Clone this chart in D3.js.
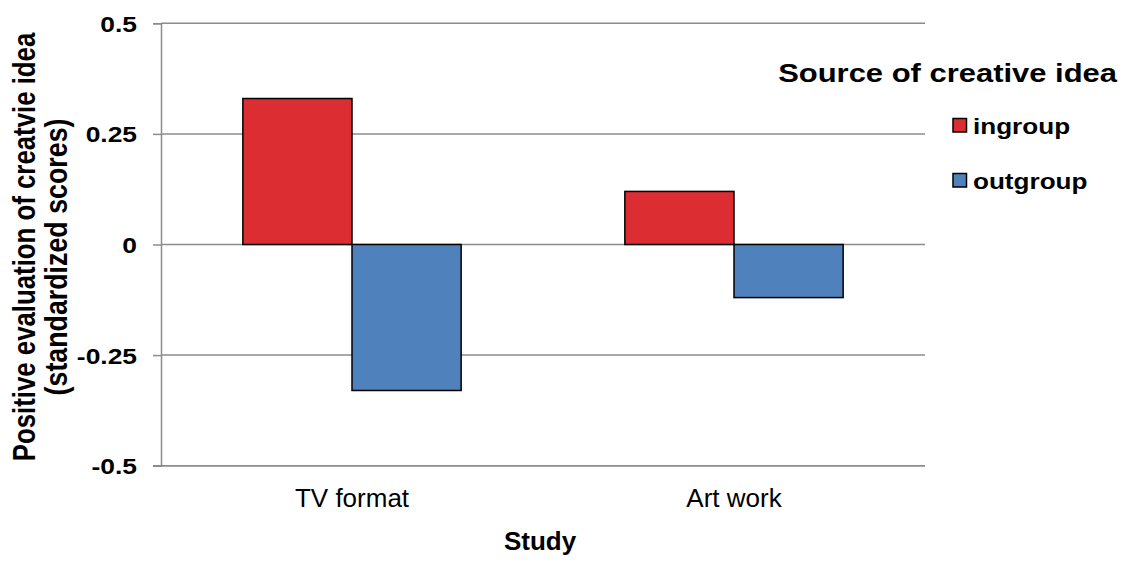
<!DOCTYPE html>
<html>
<head>
<meta charset="utf-8">
<script src="https://cdn.jsdelivr.net/npm/d3@7"></script>
<style>
  html, body { margin: 0; padding: 0; background: #fff; }
  svg { display: block; font-family: "Liberation Sans", Arial, sans-serif; }
</style>
</head>
<body>
<svg id="chart" width="1128" height="565"></svg>
<script>
// Studies along the x axis
const studies = ["TV format", "Art work"];
// Source of the creative idea (legend series)
const sources = ["ingroup", "outgroup"];
// Standardized positive evaluation, one value per study
const ingroupValues = [0.33, 0.12];
const outgroupValues = [-0.33, -0.12];
// Y axis tick values and their labels
const yTicks = [-0.5, -0.25, 0, 0.25, 0.5];
const yTickLabels = ["-0.5", "-0.25", "0", "0.25", "0.5"];
const sourceColors = ["#DC2D32", "#4F81BD"];

const seriesValues = [ingroupValues, outgroupValues];
const FONT = "'Liberation Sans', Arial, sans-serif";

const svg = d3.select("#chart");
const plot = { left: 161, right: 925, top: 23.3, bottom: 465.7 };

// Widen labels horizontally by a factor k, keeping their anchor point fixed
function widen(sel, k) {
  sel.each(function () {
    const ax = +(this.getAttribute("x") || 0);
    d3.select(this).attr("transform", `translate(${ax},0) scale(${k},1) translate(${-ax},0)`);
  });
}

const x0 = d3.scaleBand().domain(studies).range([plot.left, plot.right]).padding(0);
// Excel-style gap width of 150%: the two bars fill 4/7 of each category band
const barW = x0.bandwidth() * (2 / 3.5) / 2;
const x1 = d3.scaleBand().domain(sources).range([0, barW * 2]).padding(0);

const y = d3.scaleLinear().domain([-0.5, 0.5]).range([plot.bottom, plot.top]);

// Horizontal gridlines
svg.append("g")
  .selectAll("line")
  .data(yTicks)
  .join("line")
  .attr("x1", plot.left)
  .attr("x2", plot.right)
  .attr("y1", d => y(d))
  .attr("y2", d => y(d))
  .attr("stroke", "#8c8c8c")
  .attr("stroke-width", 1.5);

// Bars
const groups = svg.append("g")
  .selectAll("g")
  .data(studies)
  .join("g")
  .attr("transform", d => `translate(${x0(d) + x0.bandwidth() / 2 - barW},0)`);

groups.selectAll("rect")
  .data((d, i) => sources.map((s, j) => ({ source: s, value: seriesValues[j][i], color: sourceColors[j] })))
  .join("rect")
  .attr("x", d => x1(d.source))
  .attr("width", x1.bandwidth())
  .attr("y", d => y(Math.max(0, d.value)))
  .attr("height", d => Math.abs(y(d.value) - y(0)))
  .attr("fill", d => d.color)
  .attr("stroke", "#000")
  .attr("stroke-width", 1.5);

// Y axis
const yAxis = d3.axisLeft(y)
  .tickValues(yTicks)
  .tickFormat((d, i) => yTickLabels[i])
  .tickSize(8)
  .tickPadding(16);

const yg = svg.append("g")
  .attr("transform", `translate(${plot.left},0)`)
  .call(yAxis);
yg.select(".domain").attr("stroke", "#8c8c8c").attr("stroke-width", 1.5);
yg.selectAll(".tick line").attr("stroke", "#8c8c8c").attr("stroke-width", 1.5);
const yLabels = yg.selectAll(".tick text")
  .attr("fill", "#000")
  .attr("dy", "0.36em")
  .style("font-size", "22px")
  .style("font-weight", "bold")
  .style("font-family", FONT);
widen(yLabels, 1.2);

// X axis baseline with category labels
const xAxis = d3.axisBottom(x0).tickSize(0).tickPadding(22);
const xg = svg.append("g")
  .attr("transform", `translate(0,${plot.bottom})`)
  .call(xAxis);
xg.select(".domain").attr("d", `M${plot.left - 8},0H${plot.right}`).attr("stroke", "#8c8c8c").attr("stroke-width", 1.5);
xg.selectAll(".tick text")
  .attr("fill", "#000")
  .attr("dy", null)
  .attr("y", 41)
  .style("font-size", "26px")
  .style("font-family", FONT);

// Axis titles
svg.append("text")
  .attr("x", 540)
  .attr("y", 550)
  .attr("text-anchor", "middle")
  .style("font-size", "26px")
  .style("font-weight", "bold")
  .text("Study");

// Rotated title: the local y axis maps onto screen x, so scale(1,k) widens the glyphs
const yTitleK = 1.18;
svg.append("text")
  .attr("transform", `translate(0,247) rotate(-90) scale(1,${yTitleK})`)
  .attr("x", 0)
  .attr("y", 35 / yTitleK)
  .attr("text-anchor", "middle")
  .style("font-size", "25.8px")
  .style("font-weight", "bold")
  .text("Positive evaluation of creatvie idea");

svg.append("text")
  .attr("transform", `translate(0,257) rotate(-90) scale(1,${yTitleK})`)
  .attr("x", 0)
  .attr("y", 67 / yTitleK)
  .attr("text-anchor", "middle")
  .style("font-size", "26.8px")
  .style("font-weight", "bold")
  .text("(standardized scores)");

// Legend
const legendTitle = svg.append("text")
  .attr("x", 1117)
  .attr("y", 82)
  .attr("text-anchor", "end")
  .style("font-size", "25.8px")
  .style("font-weight", "bold")
  .text("Source of creative idea");
widen(legendTitle, 1.2);

const legend = svg.append("g")
  .selectAll("g")
  .data(sources)
  .join("g")
  .attr("transform", (d, i) => `translate(953,${118.5 + i * 55})`);

legend.append("rect")
  .attr("width", 13.5)
  .attr("height", 13.5)
  .attr("fill", (d, i) => sourceColors[i])
  .attr("stroke", "#000")
  .attr("stroke-width", 1.5);

const legendText = legend.append("text")
  .attr("x", 20)
  .attr("y", 15)
  .style("font-size", "22.5px")
  .style("font-weight", "bold")
  .text(d => d);
widen(legendText, 1.16);
</script>
</body>
</html>
